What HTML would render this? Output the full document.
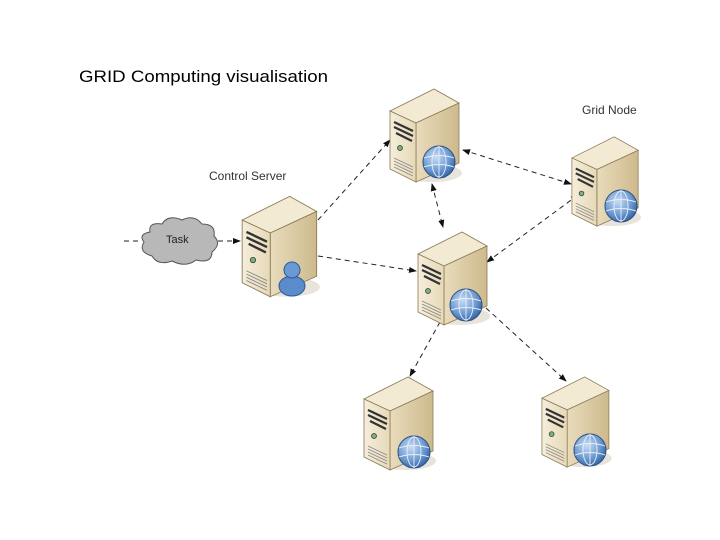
<!DOCTYPE html>
<html><head><style>
body{margin:0;background:#fff;}
svg{display:block;}
</style></head><body>
<svg width="720" height="540" viewBox="0 0 720 540" xmlns="http://www.w3.org/2000/svg">
<defs>
<linearGradient id="side" x1="0" x2="1" y1="0" y2="0"><stop offset="0" stop-color="#e9dcbc"/><stop offset="1" stop-color="#cdb98c"/></linearGradient>
<linearGradient id="front" x1="0" x2="1"><stop offset="0" stop-color="#f6eedb"/><stop offset="1" stop-color="#e6d9b8"/></linearGradient>
<radialGradient id="glob" cx="0.4" cy="0.35" r="0.7"><stop offset="0" stop-color="#c9dcf3"/><stop offset="0.6" stop-color="#6e9bd2"/><stop offset="1" stop-color="#2e5f9e"/></radialGradient>
<marker id="ah" markerWidth="8" markerHeight="8" refX="7" refY="4" orient="auto" markerUnits="userSpaceOnUse"><path d="M0,1 L8,4 L0,7 Z" fill="#111"/></marker>
<marker id="at" markerWidth="8" markerHeight="8" refX="1" refY="4" orient="auto" markerUnits="userSpaceOnUse"><path d="M8,1 L0,4 L8,7 Z" fill="#111"/></marker>
<g id="srv">
<ellipse cx="44" cy="88" rx="30" ry="9" fill="#e8e4dc"/>
<polygon points="2,26 46,4 71,18 28,38" fill="#f3ead3" stroke="#8a7a55" stroke-width="0.8"/>
<polygon points="28,38 71,18 71,78 28,97" fill="url(#side)" stroke="#8a7a55" stroke-width="0.8"/>
<polygon points="2,26 28,38 28,97 2,84" fill="url(#front)" stroke="#8a7a55" stroke-width="0.8"/>
<path d="M6,37 L25,46 M6,42 L25,51 M8,48 L24,56" stroke="#333" stroke-width="2.2"/>
<circle cx="12" cy="63" r="2.5" fill="#7ab07a" stroke="#333" stroke-width="0.7"/>
<path d="M6,73 L25,82 M6,76 L25,85 M6,79 L25,88 M6,82 L25,91" stroke="#888" stroke-width="0.8"/>
</g>
<g id="globe">
<circle cx="0" cy="0" r="16" fill="url(#glob)" stroke="#2b4f80" stroke-width="1"/>
<ellipse cx="0" cy="0" rx="7" ry="15" fill="none" stroke="#e8f0fa" stroke-width="0.9"/>
<path d="M-15,-4 Q0,-9 15,-4 M-15,5 Q0,0 15,5 M0,-16 L0,16" fill="none" stroke="#e8f0fa" stroke-width="0.9"/>
</g>
</defs>

<text x="79" y="82" font-family="Liberation Sans, sans-serif" font-size="17" fill="#000" textLength="249" lengthAdjust="spacingAndGlyphs">GRID  Computing visualisation</text>
<text x="209" y="180" font-family="Liberation Sans, sans-serif" font-size="12" fill="#333">Control Server</text>
<text x="582" y="114" font-family="Liberation Sans, sans-serif" font-size="12" fill="#333">Grid Node</text>

<g stroke="#222" stroke-width="1" stroke-dasharray="5,4" fill="none">
<line x1="124" y1="241" x2="140" y2="241"/>
<line x1="218" y1="241" x2="240" y2="241" marker-end="url(#ah)"/>
<line x1="318" y1="220" x2="390" y2="140" marker-end="url(#ah)"/>
<line x1="318" y1="256" x2="416" y2="271" marker-end="url(#ah)"/>
<line x1="432" y1="184" x2="443" y2="227" marker-start="url(#at)" marker-end="url(#ah)"/>
<line x1="463" y1="150" x2="571" y2="184" marker-start="url(#at)" marker-end="url(#ah)"/>
<line x1="487" y1="262" x2="578" y2="195" marker-start="url(#at)" marker-end="url(#ah)"/>
<line x1="440" y1="322" x2="410" y2="376" marker-end="url(#ah)"/>
<line x1="486" y1="308" x2="566" y2="381" marker-end="url(#ah)"/>
</g>

<path d="M150,232 Q148,222 162,224 Q168,214 182,220 Q194,214 202,224 Q216,224 214,236 Q222,244 212,252 Q212,264 196,260 Q186,268 172,261 Q158,266 152,256 Q138,252 144,242 Q138,234 150,232 Z" fill="#b8b8b8" stroke="#555" stroke-width="1"/>
<text x="166" y="243" font-family="Liberation Sans, sans-serif" font-size="11" fill="#222">Task</text>

<use href="#srv" transform="translate(240,192) scale(1.08)"/>
<g transform="translate(292,276)"><ellipse cx="0" cy="10" rx="13" ry="10" fill="#5a8ccc" stroke="#2d5a94"/><circle cx="0" cy="-6" r="8" fill="#6a9ad6" stroke="#2d5a94"/></g>

<use href="#srv" transform="translate(388,85)"/>
<use href="#globe" transform="translate(439,162)"/>
<use href="#srv" transform="translate(570,133) scale(0.96)"/>
<use href="#globe" transform="translate(621,206)"/>
<use href="#srv" transform="translate(416,228)"/>
<use href="#globe" transform="translate(466,305)"/>
<use href="#srv" transform="translate(362,373)"/>
<use href="#globe" transform="translate(414,452)"/>
<use href="#srv" transform="translate(540,373) scale(0.97)"/>
<use href="#globe" transform="translate(590,450)"/>
</svg>
</body></html>
